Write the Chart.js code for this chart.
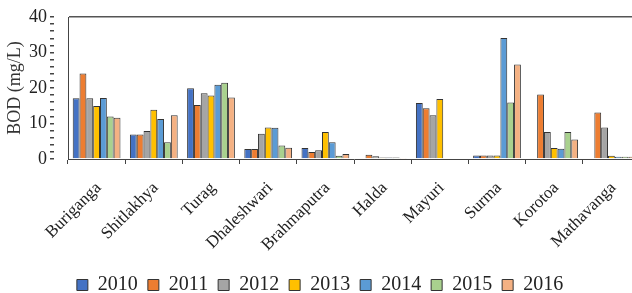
<!DOCTYPE html>
<html lang="en">
<head>
    <meta charset="UTF-8">
    <title>BOD by river</title>
    <script src="https://cdn.jsdelivr.net/npm/chart.js"></script>
    <style>
        body {
            margin: 0;
            background: #ffffff;
            overflow: hidden;
        }
        .wrap {
            width: 640px;
            height: 305px;
        }
    </style>
</head>
<body>
    <div class="wrap"><canvas id="bodChart"></canvas></div>

    <script>
        const rivers = ['Buriganga', 'Shitlakhya', 'Turag', 'Dhaleshwari', 'Brahmaputra',
                        'Halda', 'Mayuri', 'Surma', 'Korotoa', 'Mathavanga'];
        const years = ['2010', '2011', '2012', '2013', '2014', '2015', '2016'];

        const bod2010 = [17.1, 6.9, 19.9, 2.8, 3.1, 0, 15.8, 1.0, 0, 0];
        const bod2011 = [24.1, 6.9, 15.2, 2.8, 2.0, 1.2, 14.3, 1.0, 18.2, 13.1];
        const bod2012 = [17.1, 7.9, 18.5, 7.1, 2.5, 0.8, 12.3, 1.0, 7.6, 8.9];
        const bod2013 = [14.9, 13.9, 17.9, 8.9, 7.6, 0.4, 16.9, 1.0, 3.1, 0.9];
        const bod2014 = [17.2, 11.3, 20.9, 8.8, 4.7, 0.4, 0, 34.1, 2.9, 0.6];
        const bod2015 = [12.0, 4.7, 21.5, 3.8, 0.9, 0.4, 0, 15.9, 7.6, 0.6];
        const bod2016 = [11.6, 12.3, 17.3, 3.2, 1.4, 0.3, 0, 26.6, 5.5, 0.6];

        const series = [bod2010, bod2011, bod2012, bod2013, bod2014, bod2015, bod2016];
        const colors = ['#4472C4', '#ED7D31', '#A5A5A5', '#FFC000', '#5B9BD5', '#A9D18E', '#F4B183'];

        const serif = '"Liberation Serif"';

        function draw() {
            new Chart(document.getElementById('bodChart'), {
                type: 'bar',
                data: {
                    labels: rivers,
                    datasets: years.map((y, i) => ({
                        label: y,
                        data: series[i],
                        backgroundColor: colors[i],
                        borderColor: '#333333',
                        borderWidth: 1,
                        categoryPercentage: 0.835,
                        barPercentage: 1.0
                    }))
                },
                options: {
                    responsive: true,
                    maintainAspectRatio: false,
                    animation: false,
                    layout: { padding: { top: 17, left: 0, right: 0, bottom: 0 } },
                    plugins: {
                        tooltip: { enabled: false },
                        legend: {
                            position: 'bottom',
                            labels: {
                                color: '#222',
                                boxWidth: 11,
                                boxHeight: 11,
                                padding: 10,
                                font: { family: serif, size: 20, lineHeight: 1 }
                            }
                        }
                    },
                    scales: {
                        x: {
                            afterFit: s => { s.height = 106; },
                            grid: {
                                offset: true,
                                drawOnChartArea: false,
                                color: '#444',
                                tickLength: 5
                            },
                            border: { display: true, color: '#444' },
                            ticks: {
                                color: '#222',
                                minRotation: 45,
                                maxRotation: 45,
                                labelOffset: 2,
                                padding: 14,
                                font: { family: serif, size: 17 }
                            }
                        },
                        y: {
                            min: 0,
                            max: 40,
                            afterFit: s => { s.width = 68; },
                            grid: {
                                color: ctx => ctx.tick && ctx.tick.value === 40 ? '#555' : 'transparent',
                                tickColor: '#444',
                                tickLength: 18,
                                tickBorderDash: [4, 30],
                                lineWidth: 1.5
                            },
                            border: { display: true, color: '#444' },
                            ticks: {
                                stepSize: 2,
                                autoSkip: false,
                                color: '#222',
                                padding: 3,
                                font: { family: serif, size: 18 },
                                callback: v => v % 10 === 0 ? v : ''
                            },
                            title: {
                                display: true,
                                text: 'BOD (mg/L)',
                                color: '#333',
                                padding: { top: 4, bottom: 0 },
                                font: { family: serif, size: 18 }
                            }
                        }
                    }
                }
            });
        }

        document.fonts.load('18px "Liberation Serif"').then(draw, draw);
    </script>
</body>
</html>
